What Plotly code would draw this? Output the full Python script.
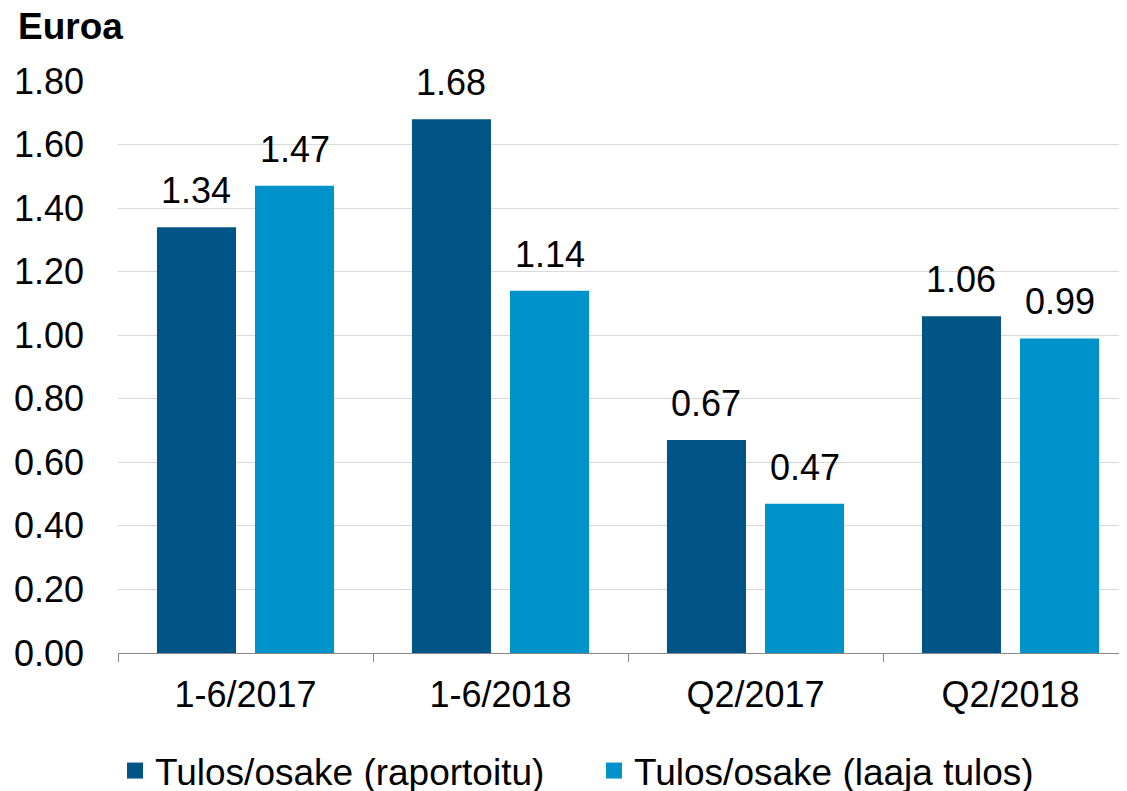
import plotly.graph_objects as go

categories = ["1-6/2017", "1-6/2018", "Q2/2017", "Q2/2018"]
reported = [1.34, 1.68, 0.67, 1.06]
comprehensive = [1.47, 1.14, 0.47, 0.99]
series_names = ["Tulos/osake (raportoitu)", "Tulos/osake (laaja tulos)"]
y_ticks = [0.0, 0.2, 0.4, 0.6, 0.8, 1.0, 1.2, 1.4, 1.6, 1.8]

colors = ["#005587", "#0092CA"]
FONT = "Liberation Sans, Arial, sans-serif"
FS = 36

# page body has an 8px offset; compensate so the visible picture lines up
OFF = 8
W, H = 1127, 791
ML, MR, MT = 118 - OFF, 0, 81 - OFF
MB = H - (653 - OFF)
cat_px = 255.0
plot_w = W - ML - MR
x_max = -0.5 + plot_w / cat_px

fig = go.Figure()
for name, vals, c in zip(series_names, [reported, comprehensive], colors):
    fig.add_trace(go.Bar(x=categories, y=vals, name=name, marker=dict(color=c, line=dict(width=0)),
                         showlegend=False))
    fig.add_trace(go.Scatter(x=[None], y=[None], mode="markers", name=name,
                             marker=dict(symbol="square", size=19, color=c)))

# value labels
slot = cat_px * (1 - 0.231) / 2
for j, vals in enumerate([reported, comprehensive]):
    for cat, v in zip(categories, vals):
        fig.add_annotation(x=cat, y=v, text=f"{v:.2f}", showarrow=False,
                           xshift=(j - 0.5) * slot, yshift=14, yanchor="bottom",
                           font=dict(family=FONT, size=FS, color="#000000"))

fig.update_layout(
    width=W, height=H,
    margin=dict(l=ML, r=MR, t=MT, b=MB, autoexpand=False),
    plot_bgcolor="white", paper_bgcolor="white",
    barmode="group", bargap=0.231, bargroupgap=0.194,
    font=dict(family=FONT, size=FS, color="#000000"),
    title=dict(text="<b>Euroa</b>", x=(18 - OFF) / W, xanchor="left", xref="container",
               y=1 - (26 - OFF) / H, yanchor="middle", yref="container",
               font=dict(family=FONT, size=37, color="#000000")),
    legend=dict(orientation="h", x=(594 - OFF) / W, xref="container", xanchor="center",
                y=(H - (771 - OFF)) / H, yref="container", yanchor="middle",
                font=dict(family=FONT, size=37), itemwidth=30, traceorder="normal",
                entrywidth=434, entrywidthmode="pixels"),
    xaxis=dict(type="category", range=[-0.5, x_max], tickson="boundaries",
               ticks="outside", ticklen=8, tickcolor="#898989", tickwidth=1,
               showline=True, linecolor="#898989", linewidth=1, showgrid=False,
               ticklabelstandoff=10, tickfont=dict(family=FONT, size=FS)),
    yaxis=dict(range=[0, 1.8], tickvals=y_ticks, tickformat=".2f",
               showgrid=True, gridcolor="#D9D9D9", gridwidth=1, zeroline=False,
               showline=False, ticks="", ticklabelstandoff=33,
               tickfont=dict(family=FONT, size=FS)),
)

fig.write_html("out.html")
